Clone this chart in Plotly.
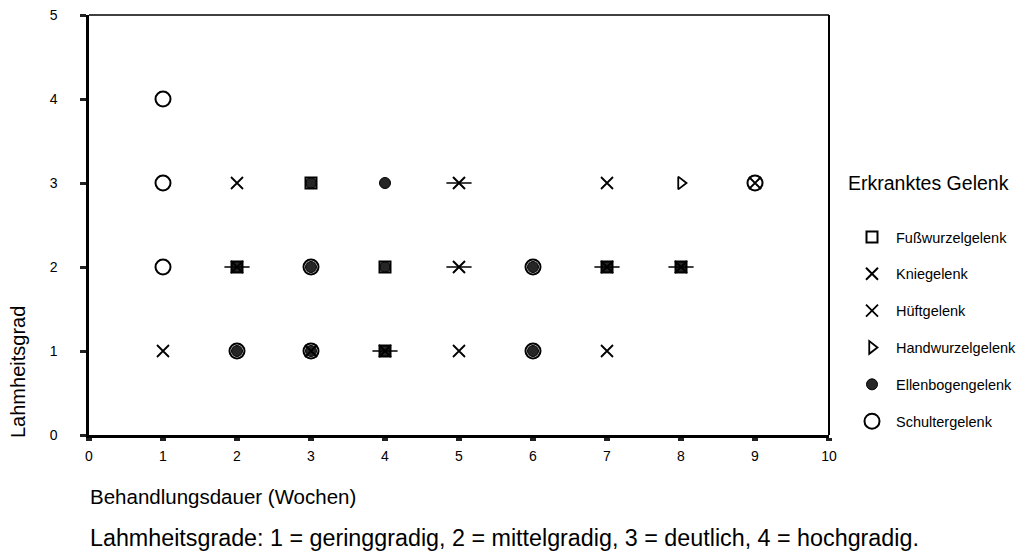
import plotly.graph_objects as go

# Data: (Behandlungsdauer in Wochen, Lahmheitsgrad) per Gelenk
fuss_x = [3, 2, 4, 7, 8, 4]
fuss_y = [3, 2, 2, 2, 2, 1]
knie_x = [5, 5, 7, 8, 4, 2]
knie_y = [3, 2, 2, 2, 1, 2]
hueft_x = [1, 2, 7, 9, 5, 7, 3]
hueft_y = [1, 3, 3, 3, 1, 1, 1]
hand_x = [8]
hand_y = [3]
ellen_x = [4, 3, 2, 3, 4, 6, 7, 8, 2, 3, 4, 6]
ellen_y = [3, 3, 2, 2, 2, 2, 2, 2, 1, 1, 1, 1]
schulter_x = [1, 1, 1, 9, 3, 6, 2, 3, 6]
schulter_y = [4, 3, 2, 3, 2, 2, 1, 1, 1]

x_ticks = list(range(0, 11))
y_ticks = list(range(0, 6))

FONT = "Liberation Sans, Arial, sans-serif"
BLACK = "#000000"

# page has an 8px body margin; figure coords = page coords - 8
OFF = 8
W, H = 1028 - OFF, 554 - OFF
L, T = 89 - OFF, 15 - OFF
R = W - (829 - OFF)
B = H - (435 - OFF)
PW, PH = W - L - R, H - T - B


def px(xp):  # page x -> paper x
    return (xp - OFF - L) / PW


def py(yp):  # page y -> paper y
    return (H - B - (yp - OFF)) / PH


fig = go.Figure()

# filled Ellenbogen first so open shapes sit on top; legend order via legendrank
fig.add_trace(go.Scatter(
    x=ellen_x, y=ellen_y, mode="markers", name="Ellenbogengelenk",
    legendgroup="ellen", legendrank=5,
    marker=dict(symbol="circle", size=11, color="#262626",
                line=dict(color=BLACK, width=1)),
))
fig.add_trace(go.Scatter(
    x=fuss_x, y=fuss_y, mode="markers", name="Fußwurzelgelenk",
    legendgroup="fuss", legendrank=1,
    marker=dict(symbol="square-open", size=11, color=BLACK, line=dict(width=2)),
))
fig.add_trace(go.Scatter(
    x=knie_x, y=knie_y, mode="markers", name="Kniegelenk",
    legendgroup="knie", legendrank=2,
    marker=dict(symbol="x-thin-open", size=12, color=BLACK, line=dict(width=2, color=BLACK)),
))
fig.add_trace(go.Scatter(
    x=knie_x, y=knie_y, mode="markers", name="Kniegelenk",
    legendgroup="knie", showlegend=False,
    marker=dict(symbol="line-ew-open", size=18, color=BLACK, line=dict(width=1.5, color=BLACK)),
))
fig.add_trace(go.Scatter(
    x=hueft_x, y=hueft_y, mode="markers", name="Hüftgelenk",
    legendgroup="hueft", legendrank=3,
    marker=dict(symbol="x-thin-open", size=12, color=BLACK, line=dict(width=1.8, color=BLACK)),
))
fig.add_trace(go.Scatter(
    x=hand_x, y=hand_y, mode="markers", name="Handwurzelgelenk",
    legendgroup="hand", legendrank=4,
    marker=dict(symbol="triangle-right-open", size=11, color=BLACK, line=dict(width=1.8)),
))
fig.add_trace(go.Scatter(
    x=schulter_x, y=schulter_y, mode="markers", name="Schultergelenk",
    legendgroup="schulter", legendrank=6,
    marker=dict(symbol="circle-open", size=15, color=BLACK, line=dict(width=2)),
))

fig.update_layout(
    width=W, height=H,
    margin=dict(l=L, r=R, t=T, b=B, autoexpand=False),
    paper_bgcolor="white", plot_bgcolor="white",
    font=dict(family=FONT, size=14, color=BLACK),
    showlegend=True,
    legend=dict(
        x=px(848), xanchor="left", y=py(221), yanchor="top",
        font=dict(family=FONT, size=14.5, color=BLACK),
        tracegroupgap=15, itemsizing="trace", itemwidth=38,
        bgcolor="rgba(0,0,0,0)",
    ),
    xaxis=dict(
        range=[0, 10], tickvals=x_ticks, ticktext=[str(v) for v in x_ticks],
        showgrid=False, zeroline=False, showline=True, linecolor=BLACK, linewidth=2.5,
        ticks="outside", ticklen=3, tickwidth=6, tickcolor="#222",
        ticklabelstandoff=3, automargin=False, ticklabeloverflow="allow",
        tickfont=dict(family=FONT, size=14, color=BLACK),
    ),
    yaxis=dict(
        range=[0, 5], tickvals=y_ticks, ticktext=[str(v) for v in y_ticks],
        showgrid=False, zeroline=False, showline=True, linecolor=BLACK, linewidth=2.5,
        ticks="outside", ticklen=6, tickwidth=3, tickcolor="#222",
        ticklabelstandoff=20, automargin=False, ticklabeloverflow="allow",
        tickfont=dict(family=FONT, size=14, color=BLACK),
    ),
    shapes=[
        dict(type="line", xref="paper", yref="paper", x0=0, x1=1, y0=1, y1=1,
             line=dict(color=BLACK, width=1.5)),
        dict(type="line", xref="paper", yref="paper", x0=1, x1=1, y0=0, y1=1,
             line=dict(color=BLACK, width=2)),
    ],
    annotations=[
        dict(text="Erkranktes Gelenk", xref="paper", yref="paper",
             x=px(846), y=py(183), xanchor="left", yanchor="middle",
             showarrow=False, font=dict(family=FONT, size=19.5, color=BLACK)),
        dict(text="Lahmheitsgrad", xref="paper", yref="paper",
             x=px(18), y=py(372), xanchor="center", yanchor="middle",
             textangle=-90, showarrow=False, font=dict(family=FONT, size=20, color=BLACK)),
        dict(text="Behandlungsdauer (Wochen)", xref="paper", yref="paper",
             x=px(88), y=py(497), xanchor="left", yanchor="middle",
             showarrow=False, font=dict(family=FONT, size=20.5, color=BLACK)),
        dict(text="Lahmheitsgrade: 1 = geringgradig, 2 = mittelgradig, 3 = deutlich, 4 = hochgradig.",
             xref="paper", yref="paper",
             x=px(88), y=py(538), xanchor="left", yanchor="middle",
             showarrow=False, font=dict(family=FONT, size=23.3, color=BLACK)),
    ],
)

fig.write_html("out.html")
